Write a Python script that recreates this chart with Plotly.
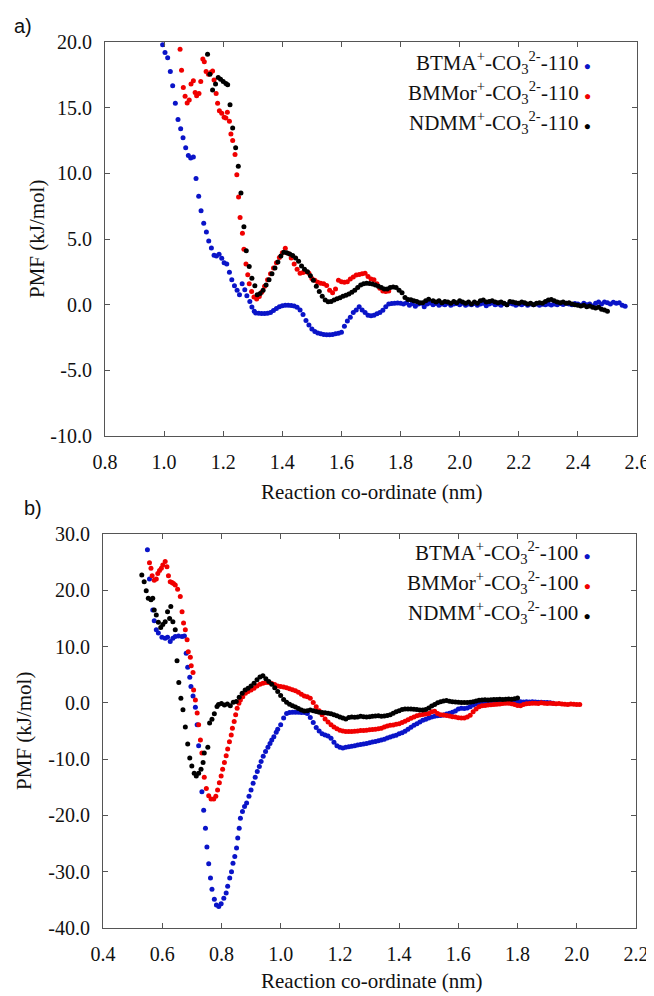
import plotly.graph_objects as go

# ---------------- Panel a) : 110 ----------------
a_btma_x = [0.995,1.003,1.012,1.021,1.029,1.038,1.047,1.056,1.064,1.073,1.082,1.090,1.099,1.108,1.117,1.125,1.134,1.143,1.151,1.160,
            1.169,1.177,1.186,1.195,1.203,1.212,1.221,1.229,1.238,1.247,1.255,1.264,1.273,1.280,1.290,1.297,1.305,
            1.31,1.32,1.33,1.34,1.35,1.36,1.37,1.38,1.39,1.40,1.41,1.42,1.43,1.44,1.45,1.46,1.47,1.48,1.49,1.50,
            1.51,1.52,1.53,1.54,1.55,1.56,1.57,1.58,1.59,1.60,1.61,1.62,1.63,1.64,1.65,1.66,1.67,1.68,1.69,1.70,
            1.71,1.72,1.73,1.74,1.75,1.76,1.77,1.78,1.79,1.80,1.81,1.82,1.83,1.84,1.85,1.86,1.87,1.88,1.89,1.90,
            1.91,1.92,1.93,1.94,1.95,1.96,1.97,1.98,1.99,2.00,2.01,2.02,2.03,2.04,2.05,2.06,2.07,2.08,2.09,2.10,
            2.11,2.12,2.13,2.14,2.15,2.16,2.17,2.18,2.19,2.20,2.21,2.22,2.23,2.24,2.25,2.26,2.27,2.28,2.29,2.30,
            2.31,2.32,2.33,2.34,2.35,2.36,2.37,2.38,2.39,2.40,2.41,2.42,2.43,2.44,2.45,2.46,2.47,2.48,2.49,2.50,
            2.51,2.52,2.53,2.54,2.55,2.56]
a_btma_y = [19.8,19.2,18.8,17.75,16.67,15.33,14.1,13.4,12.7,11.95,11.36,11.16,11.24,9.6,8.26,7.15,6.2,5.53,4.85,4.32,
            3.76,3.71,3.84,3.53,3.2,3.1,2.47,1.9,1.44,1.09,0.76,1.59,1.14,0.68,0.25,-0.17,-0.5,
            -0.63,-0.66,-0.68,-0.68,-0.66,-0.6,-0.45,-0.3,-0.16,-0.08,-0.05,-0.05,-0.06,-0.1,-0.2,-0.4,-0.75,-1.2,-1.55,-1.85,
            -2.05,-2.15,-2.22,-2.27,-2.3,-2.3,-2.28,-2.22,-2.18,-2.1,-1.65,-1.25,-0.95,-0.6,-0.4,-0.15,-0.4,-0.6,-0.8,-0.85,
            -0.8,-0.7,-0.6,-0.42,-0.15,0.05,0.08,0.10,0.12,0.10,0.05,0.15,-0.05,0.08,-0.12,0.05,0.10,-0.15,0.05,0.12,
            0.0,0.08,-0.05,0.05,0.0,0.10,-0.05,0.05,0.08,0.0,0.10,-0.05,0.05,0.0,0.08,-0.05,0.05,0.10,-0.08,0.05,
            0.12,0.0,0.05,-0.05,0.08,0.0,0.10,0.05,-0.05,0.05,0.0,0.08,-0.05,0.05,0.0,0.05,-0.05,0.03,0.0,0.05,
            -0.03,0.05,0.0,0.08,0.02,0.10,0.05,0.0,0.08,0.05,-0.05,0.10,0.0,0.05,-0.10,0.10,0.20,0.05,0.20,0.15,
            0.05,0.18,0.10,0.15,-0.05,-0.12]

a_bmmor_x = [1.054,1.059,1.065,1.071,1.078,1.085,1.091,1.099,1.105,1.110,1.118,1.124,1.131,1.136,1.142,1.150,1.158,1.164,1.169,1.176,
             1.181,1.187,1.195,1.203,1.209,1.214,1.221,1.226,1.232,1.240,1.246,1.252,1.257,1.265,1.270,1.277,1.283,1.288,1.296,1.304,
             1.313,1.322,1.33,1.34,1.35,1.36,1.37,1.38,1.39,1.40,1.41,1.42,1.43,1.44,1.45,1.46,1.47,1.48,1.49,1.50,
             1.51,1.52,1.53,1.54,1.55,1.56,1.57,1.58,1.59,1.60,1.61,1.62,1.63,1.64,1.65,1.66,1.67,1.68,1.69,1.70,
             1.71,1.72,1.73,1.74,1.75,1.76]
a_bmmor_y = [19.45,17.85,16.54,15.86,15.35,15.58,16.8,17.05,16.16,15.9,16.08,17.0,18.7,18.5,17.75,17.55,17.67,17.8,17.1,16.08,
             15.33,14.77,14.57,14.27,14.22,14.65,13.96,13.0,12.5,11.44,9.9,8.2,6.64,5.43,4.22,3.1,2.27,1.59,1.01,0.58,
             0.43,0.63,0.95,1.4,1.9,2.35,2.8,3.2,3.6,3.95,4.3,3.9,3.55,3.1,2.7,2.4,2.45,2.5,2.4,2.0,
             1.85,1.7,1.64,1.6,1.45,1.1,0.9,1.2,1.85,1.75,1.7,1.75,1.95,2.1,2.25,2.3,2.35,2.4,2.15,1.95,
             1.9,1.6,1.25,1.05,1.0,1.05]

a_ndmm_x = [1.147,1.155,1.164,1.174,1.183,1.191,1.200,1.209,1.215,1.223,1.232,1.242,1.251,1.260,1.270,1.278,1.288,1.297,1.307,1.315,
            1.325,1.335,1.345,1.355,1.365,1.375,1.385,1.395,1.405,1.415,1.425,1.435,1.445,1.455,1.465,1.475,1.485,1.495,1.505,1.515,
            1.525,1.535,1.545,1.555,1.565,1.575,1.585,1.595,1.605,1.615,1.625,1.635,1.645,1.655,1.665,1.675,1.685,1.695,1.705,1.715,
            1.725,1.735,1.745,1.755,1.765,1.775,1.785,1.795,1.805,1.815,1.825,1.835,1.845,1.855,1.865,1.875,1.885,1.895,
            1.91,1.92,1.93,1.94,1.95,1.96,1.97,1.98,1.99,2.00,2.01,2.02,2.03,2.04,2.05,2.06,2.07,2.08,2.09,2.10,
            2.11,2.12,2.13,2.14,2.15,2.16,2.17,2.18,2.19,2.20,2.21,2.22,2.23,2.24,2.25,2.26,2.27,2.28,2.29,2.30,
            2.31,2.32,2.33,2.34,2.35,2.36,2.37,2.38,2.39,2.40,2.41,2.42,2.43,2.44,2.45,2.46,2.47,2.48,2.49,2.50]
a_ndmm_y = [19.07,17.55,16.34,16.8,17.3,17.17,17.0,16.84,16.74,15.23,13.46,11.95,10.53,8.5,5.93,4.11,2.9,2.02,1.44,0.75,
            0.85,1.1,1.5,1.9,2.35,2.8,3.25,3.7,4.0,3.95,3.85,3.75,3.55,3.3,2.95,2.7,2.5,2.2,1.85,1.4,
            1.0,0.65,0.35,0.22,0.25,0.35,0.45,0.52,0.65,0.72,0.82,0.95,1.1,1.3,1.5,1.6,1.64,1.62,1.58,1.5,
            1.4,1.3,1.2,1.2,1.3,1.35,1.3,1.1,0.9,0.55,0.4,0.38,0.3,0.25,0.15,0.15,0.3,0.42,
            0.3,0.2,0.3,0.15,0.25,0.2,0.1,0.25,0.15,0.3,0.2,0.1,0.2,0.05,0.2,0.1,0.3,0.35,0.2,0.25,
            0.3,0.2,0.15,0.2,0.1,0.0,0.25,0.2,0.15,0.1,0.2,0.15,0.05,0.1,0.0,0.1,0.15,0.1,0.25,0.35,
            0.4,0.3,0.2,0.15,0.2,0.1,0.15,0.05,0.0,-0.05,-0.1,-0.05,-0.15,-0.1,-0.2,-0.25,-0.2,-0.35,-0.4,-0.5]

# ---------------- Panel b) : 100 ----------------
b_btma_x = [0.550,0.557,0.568,0.573,0.580,0.587,0.599,0.610,0.618,0.627,0.636,0.644,0.655,0.667,0.675,0.681,0.686,0.693,0.697,0.704,
            0.712,0.718,0.723,0.734,0.740,0.746,0.751,0.757,0.763,0.768,0.776,0.783,0.791,0.799,0.808,0.816,0.821,0.828,0.834,0.839,
            0.845,0.851,0.855,0.860,0.864,0.871,0.878,0.885,0.893,0.900,0.907,0.914,0.921,0.928,0.934,0.941,0.949,0.957,0.964,0.970,
            0.977,0.985,0.99,1.00,1.01,1.02,1.03,1.04,1.05,1.06,1.07,1.08,1.09,1.10,1.11,1.12,1.13,1.14,1.15,1.16,
            1.17,1.18,1.19,1.20,1.21,1.22,1.23,1.24,1.25,1.26,1.27,1.28,1.29,1.30,1.31,1.32,1.33,1.34,1.35,1.36,
            1.37,1.38,1.39,1.40,1.41,1.42,1.43,1.44,1.45,1.46,1.47,1.48,1.49,1.50,1.51,1.52,1.53,1.54,1.55,1.56,
            1.57,1.58,1.59,1.60,1.61,1.62,1.63,1.64,1.65,1.66,1.67,1.68,1.69,1.70,1.71,1.72,1.73,1.74,1.75,1.76,
            1.77,1.78,1.79,1.80,1.81,1.82,1.83,1.84,1.85,1.86,1.87,1.88,1.89,1.90,1.91,1.92]
b_btma_y = [27.2,22.0,16.5,14.6,12.97,12.4,11.67,11.5,11.67,10.9,11.5,11.78,11.9,11.78,11.9,8.83,6.34,4.57,2.9,1.24,
            -0.76,-3.9,-7.6,-15.8,-19.1,-22.3,-25.6,-28.6,-31.1,-33.1,-34.9,-35.9,-36.2,-35.7,-34.7,-33.8,-32.6,-31.1,-30.0,-28.5,
            -27.3,-25.8,-24.0,-22.3,-20.5,-19.3,-18.4,-17.8,-16.6,-15.5,-14.3,-13.2,-12.2,-11.3,-10.4,-9.5,-8.65,-7.9,-7.2,-6.6,
            -6.0,-5.2,-4.7,-3.9,-2.7,-1.9,-1.7,-1.65,-1.65,-1.65,-1.7,-1.7,-1.9,-2.6,-3.5,-4.4,-5.0,-5.5,-5.7,-5.9,
            -6.3,-7.0,-7.6,-7.9,-8.0,-7.9,-7.8,-7.7,-7.6,-7.5,-7.4,-7.3,-7.2,-7.1,-6.95,-6.85,-6.75,-6.6,-6.45,-6.25,
            -6.05,-5.9,-5.75,-5.5,-5.3,-5.05,-4.7,-4.35,-4.0,-3.7,-3.4,-3.1,-2.9,-2.7,-2.5,-2.4,-2.3,-2.25,-2.15,-2.0,
            -1.85,-1.65,-1.45,-1.1,-0.95,-1.0,-0.9,-0.7,-0.4,-0.2,-0.05,0.1,0.15,0.2,0.25,0.2,0.25,0.2,0.25,0.25,
            0.2,0.2,0.15,0.2,0.2,0.15,0.2,0.15,0.2,0.15,0.1,0.1,0.05,0.05,0.0,-0.05]

b_bmmor_x = [0.557,0.562,0.566,0.573,0.580,0.585,0.591,0.597,0.602,0.610,0.616,0.621,0.627,0.633,0.638,0.644,0.652,0.661,0.667,0.672,
             0.678,0.684,0.688,0.695,0.698,0.704,0.706,0.712,0.718,0.723,0.729,0.734,0.742,0.749,0.757,0.765,0.774,0.781,0.787,0.793,
             0.799,0.804,0.810,0.816,0.821,0.827,0.833,0.837,0.843,0.848,0.853,0.859,0.864,0.872,0.881,0.89,0.90,0.91,0.92,0.93,
             0.94,0.95,0.96,0.97,0.98,0.99,1.00,1.01,1.02,1.03,1.04,1.05,1.06,1.07,1.08,1.09,1.10,1.11,1.12,1.13,
             1.14,1.15,1.16,1.17,1.18,1.19,1.20,1.21,1.22,1.23,1.24,1.25,1.26,1.27,1.28,1.29,1.30,1.31,1.32,1.33,
             1.34,1.35,1.36,1.37,1.38,1.39,1.40,1.41,1.42,1.43,1.44,1.45,1.46,1.47,1.48,1.49,1.50,1.51,1.52,1.53,
             1.54,1.55,1.56,1.57,1.58,1.59,1.60,1.61,1.62,1.63,1.64,1.65,1.66,1.67,1.68,1.69,1.70,1.71,1.72,1.73,
             1.74,1.75,1.76,1.77,1.78,1.79,1.80,1.81,1.82,1.83,1.84,1.85,1.86,1.87,1.88,1.89,1.90,1.91,1.92,1.93,
             1.94,1.95,1.96,1.97,1.98,1.99,2.00,2.01]
b_bmmor_y = [24.9,23.9,22.6,21.8,22.0,23.0,23.5,23.9,24.5,25.1,24.2,22.6,21.5,21.4,21.2,20.96,20.2,18.9,16.2,14.2,
             12.97,11.2,9.1,8.1,6.6,5.4,2.3,0.5,-1.8,-3.9,-6.6,-8.9,-13.2,-15.2,-16.5,-17.1,-17.1,-16.6,-15.5,-14.2,
             -13.0,-11.8,-10.6,-9.4,-8.2,-6.9,-5.7,-4.5,-3.3,-2.1,-0.95,-0.06,0.5,1.1,1.7,2.0,2.3,2.6,3.0,3.3,
             3.5,3.6,3.6,3.45,3.25,3.0,2.9,2.8,2.7,2.5,2.35,2.15,1.9,1.55,1.2,1.1,0.8,0.05,-0.7,-1.4,
             -2.1,-2.85,-3.4,-3.9,-4.3,-4.6,-4.85,-5.0,-5.1,-5.1,-5.1,-5.05,-5.0,-4.9,-4.9,-4.85,-4.8,-4.75,-4.7,-4.6,
             -4.5,-4.3,-4.1,-4.0,-3.95,-3.8,-3.7,-3.5,-3.25,-3.0,-2.75,-2.5,-2.3,-2.15,-2.05,-2.0,-1.9,-1.6,-1.5,-1.9,
             -2.1,-2.15,-2.25,-2.35,-2.45,-2.5,-2.65,-2.7,-2.7,-2.5,-2.2,-1.6,-1.1,-0.7,-0.5,-0.45,-0.4,-0.35,-0.3,-0.25,
             -0.2,-0.1,-0.05,-0.05,-0.15,-0.3,-0.45,-0.5,-0.3,-0.15,-0.1,-0.05,-0.05,-0.1,0.0,-0.05,-0.1,-0.05,-0.1,-0.15,
             -0.1,-0.2,-0.25,-0.3,-0.2,-0.25,-0.3,-0.3]

b_ndmm_x = [0.531,0.539,0.546,0.553,0.562,0.568,0.573,0.580,0.587,0.595,0.602,0.610,0.618,0.625,0.629,0.636,0.644,0.650,0.656,0.663,
            0.670,0.678,0.686,0.693,0.700,0.708,0.715,0.723,0.731,0.738,0.742,0.754,0.760,0.768,0.776,0.785,0.79,0.80,0.81,0.82,
            0.83,0.84,0.85,0.86,0.87,0.88,0.89,0.90,0.91,0.92,0.93,0.94,0.95,0.96,0.97,0.98,0.99,1.00,1.01,1.02,
            1.03,1.04,1.05,1.06,1.07,1.08,1.09,1.10,1.11,1.12,1.13,1.14,1.15,1.16,1.17,1.18,1.19,1.20,1.21,1.22,
            1.23,1.24,1.25,1.26,1.27,1.28,1.29,1.30,1.31,1.32,1.33,1.34,1.35,1.36,1.37,1.38,1.39,1.40,1.41,1.42,
            1.43,1.44,1.45,1.46,1.47,1.48,1.49,1.50,1.51,1.52,1.53,1.54,1.55,1.56,1.57,1.58,1.59,1.60,1.61,1.62,
            1.63,1.64,1.65,1.66,1.67,1.68,1.69,1.70,1.71,1.72,1.73,1.74,1.75,1.76,1.77,1.78,1.79,1.80]
b_ndmm_y = [22.7,21.5,19.9,18.6,18.3,18.6,16.5,15.6,14.3,13.4,13.9,14.4,16.2,15.0,17.1,14.4,13.0,7.5,3.6,0.83,
            -1.24,-4.3,-7.3,-9.8,-11.2,-12.5,-13.0,-12.5,-11.8,-10.6,-8.9,-7.9,-3.6,-2.9,-1.95,-0.66,-0.3,-0.1,-0.4,-0.2,
            -0.5,0.1,0.25,1.0,1.7,2.3,2.6,3.0,3.5,4.1,4.6,4.8,4.3,3.8,3.3,2.7,2.0,1.3,0.6,0.1,
            -0.25,-0.5,-0.75,-1.0,-1.25,-1.45,-1.4,-1.25,-1.4,-1.55,-1.65,-1.7,-1.75,-1.85,-1.95,-2.1,-2.3,-2.5,-2.7,-2.85,
            -2.6,-2.5,-2.55,-2.5,-2.4,-2.45,-2.5,-2.45,-2.4,-2.35,-2.3,-2.4,-2.35,-2.25,-2.1,-1.85,-1.6,-1.4,-1.2,-1.1,
            -1.1,-1.1,-1.15,-1.2,-1.25,-1.25,-1.2,-0.9,-0.55,-0.3,0.0,0.2,0.35,0.4,0.3,0.2,0.15,0.1,0.05,0.05,
            0.05,0.1,0.2,0.35,0.45,0.5,0.55,0.5,0.55,0.6,0.6,0.65,0.6,0.65,0.7,0.65,0.75,0.85]

# tick labels (plain hyphen minus as in the original)
a_ytick_vals = [-10, -5, 0, 5, 10, 15, 20]
a_ytick_text = ["-10.0", "-5.0", "0.0", "5.0", "10.0", "15.0", "20.0"]
b_ytick_vals = [-40, -30, -20, -10, 0, 10, 20, 30]
b_ytick_text = ["-40.0", "-30.0", "-20.0", "-10.0", "0.0", "10.0", "20.0", "30.0"]

series_names_a = ["BTMA<sup>+</sup>-CO<sub>3</sub><sup>2-</sup>-110",
                  "BMMor<sup>+</sup>-CO<sub>3</sub><sup>2-</sup>-110",
                  "NDMM<sup>+</sup>-CO<sub>3</sub><sup>2-</sup>-110"]
series_names_b = ["BTMA<sup>+</sup>-CO<sub>3</sub><sup>2-</sup>-100",
                  "BMMor<sup>+</sup>-CO<sub>3</sub><sup>2-</sup>-100",
                  "NDMM<sup>+</sup>-CO<sub>3</sub><sup>2-</sup>-100"]
colors = ["#0a14c8", "#f00000", "#000000"]

# the page body adds an 8 px offset, so the figure is drawn 8 px smaller
OFF = 8
W, H = 654 - OFF, 996 - OFF
SERIF = "Liberation Serif, Times New Roman, serif"

fig = go.Figure()
panel_a = [(a_btma_x, a_btma_y), (a_bmmor_x, a_bmmor_y), (a_ndmm_x, a_ndmm_y)]
panel_b = [(b_btma_x, b_btma_y), (b_bmmor_x, b_bmmor_y), (b_ndmm_x, b_ndmm_y)]
for (xs, ys), name, c in zip(panel_a, series_names_a, colors):
    fig.add_trace(go.Scatter(x=xs, y=ys, mode="markers", name=name, showlegend=False,
                             marker=dict(color=c, size=5, line=dict(width=0)), xaxis="x", yaxis="y"))
for (xs, ys), name, c in zip(panel_b, series_names_b, colors):
    fig.add_trace(go.Scatter(x=xs, y=ys, mode="markers", name=name, showlegend=False,
                             marker=dict(color=c, size=5, line=dict(width=0)), xaxis="x2", yaxis="y2"))

axis_common = dict(showline=True, mirror="ticks", linecolor="#555", linewidth=1, automargin=False,
                   ticks="inside", ticklen=5, tickcolor="#555", showgrid=False, zeroline=False,
                   tickfont=dict(family=SERIF, size=20, color="#111"))

def px_x(p):
    return (p - OFF) / W

def px_y(p):
    return 1 - (p - OFF) / H

fig.update_layout(
    template="none",
    width=W, height=H, margin=dict(l=0, r=0, t=0, b=0, pad=0, autoexpand=False),
    paper_bgcolor="white", plot_bgcolor="white", showlegend=False,
    xaxis=dict(domain=[px_x(105), px_x(637)], range=[0.8, 2.6], dtick=0.2, tick0=0.8, tickformat=".1f",
               anchor="y", ticklabelstandoff=8, **axis_common),
    yaxis=dict(domain=[px_y(436), px_y(42)], range=[-10, 20], tickmode="array",
               tickvals=a_ytick_vals, ticktext=a_ytick_text,
               anchor="x", ticklabelstandoff=8, **axis_common),
    xaxis2=dict(domain=[px_x(103), px_x(636)], range=[0.4, 2.2], dtick=0.2, tick0=0.4, tickformat=".1f",
                anchor="y2", ticklabelstandoff=8, **axis_common),
    yaxis2=dict(domain=[px_y(928), px_y(534)], range=[-40, 30], tickmode="array",
                tickvals=b_ytick_vals, ticktext=b_ytick_text,
                anchor="x2", ticklabelstandoff=8, **axis_common),
)

ann = []
# panel labels
ann.append(dict(text="a)", x=px_x(23), y=px_y(26), xref="paper", yref="paper", showarrow=False,
                xanchor="center", yanchor="middle",
                font=dict(family="Liberation Sans, Arial, sans-serif", size=20, color="#111")))
ann.append(dict(text="b)", x=px_x(33), y=px_y(508), xref="paper", yref="paper", showarrow=False,
                xanchor="center", yanchor="middle",
                font=dict(family="Liberation Sans, Arial, sans-serif", size=20, color="#111")))
# axis titles
for yc in (492, 981):
    ann.append(dict(text="Reaction co-ordinate (nm)", x=px_x(372), y=px_y(yc), xref="paper", yref="paper",
                    xanchor="center", yanchor="middle",
                    showarrow=False, font=dict(family=SERIF, size=21, color="#111")))
ann.append(dict(text="PMF (kJ/mol)", x=px_x(37), y=px_y(239), xref="paper", yref="paper", textangle=-90,
                xanchor="center", yanchor="middle",
                showarrow=False, font=dict(family=SERIF, size=21, color="#111")))
ann.append(dict(text="PMF (kJ/mol)", x=px_x(24), y=px_y(731), xref="paper", yref="paper", textangle=-90,
                xanchor="center", yanchor="middle",
                showarrow=False, font=dict(family=SERIF, size=21, color="#111")))
# legends (text with coloured dot on the right)
for names, ys in ((series_names_a, (62, 92, 123)), (series_names_b, (552, 582, 612))):
    for name, c, yc in zip(names, colors, ys):
        ann.append(dict(text=f"{name} <span style='color:{c};font-size:12px'>●</span>",
                        x=px_x(593), y=px_y(yc), xref="paper", yref="paper", xanchor="right",
                        yanchor="middle", showarrow=False, font=dict(family=SERIF, size=21, color="#111")))
fig.update_layout(annotations=ann)

fig.write_html("out.html")
